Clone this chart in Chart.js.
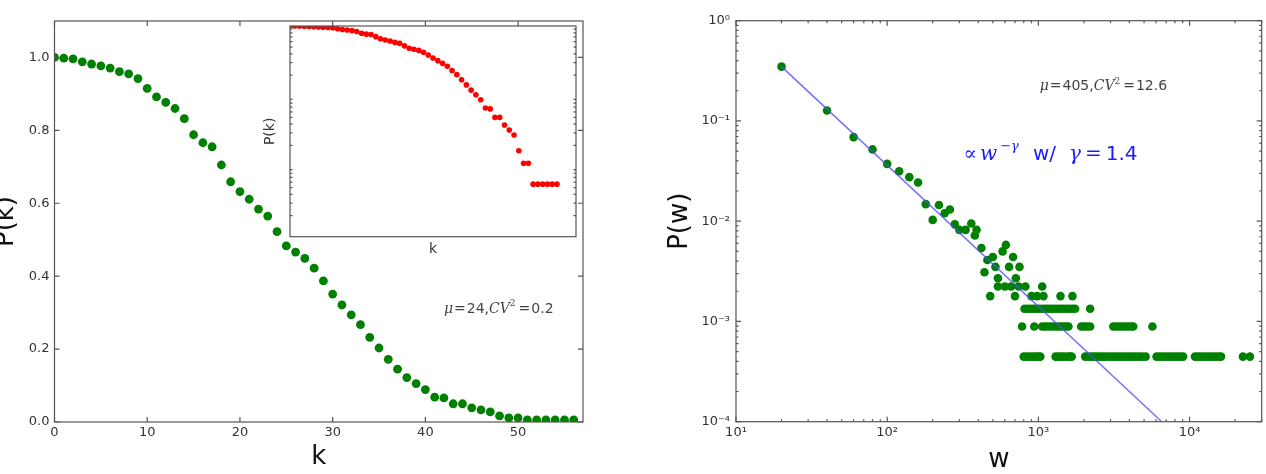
<!DOCTYPE html>
<html lang="en">
<head>
<meta charset="UTF-8">
<title>P(k) and P(w)</title>
<script src="https://cdn.jsdelivr.net/npm/chart.js"></script>
<style>
  body { margin: 0; background: #fff; }
  #wrap { position: relative; width: 1266px; height: 474px; }
  canvas { position: absolute; }
</style>
</head>
<body>
<div id="wrap">
  <canvas id="degree" width="600" height="474" style="left:0;top:0"></canvas>
  <canvas id="inset" width="336" height="244" style="left:250px;top:16px"></canvas>
  <canvas id="weight" width="646" height="474" style="left:620px;top:0"></canvas>
</div>
<script>
// degree distribution (left + inset)
const kValues = [0, 1, 2, 3, 4, 5, 6, 7, 8, 9, 10, 11, 12, 13, 14, 15, 16, 17, 18, 19,
  20, 21, 22, 23, 24, 25, 26, 27, 28, 29, 30, 31, 32, 33, 34, 35, 36, 37, 38, 39,
  40, 41, 42, 43, 44, 45, 46, 47, 48, 49, 50, 51, 52, 53, 54, 55, 56];
const pK = [1.0, 0.998, 0.996, 0.988, 0.982, 0.977, 0.971, 0.961, 0.955, 0.942,
  0.915, 0.892, 0.877, 0.860, 0.832, 0.788, 0.766, 0.755, 0.705, 0.659,
  0.632, 0.611, 0.584, 0.565, 0.522, 0.483, 0.466, 0.449, 0.422, 0.387,
  0.351, 0.321, 0.294, 0.267, 0.232, 0.203, 0.172, 0.145, 0.122, 0.105,
  0.089, 0.068, 0.066, 0.050, 0.050, 0.039, 0.033, 0.028, 0.0167, 0.0111,
  0.0111, 0.0056, 0.0056, 0.0056, 0.0056, 0.0056, 0.0056];

// weight distribution (right)
const wScatter = [20, 40, 60, 80, 100, 120, 140, 160, 180, 200, 220, 240, 260, 280, 300, 330,
  360, 380, 390, 420, 440, 460, 500, 520, 540, 580, 610, 640, 680, 710, 750];
const pScatter = [0.348, 0.127, 0.069, 0.052, 0.0373, 0.0315, 0.0275, 0.0243, 0.0148, 0.0103,
  0.0145, 0.0120, 0.0131, 0.0093, 0.0082, 0.0082, 0.0095, 0.0072, 0.0082, 0.0054,
  0.0031, 0.0041, 0.0044, 0.0035, 0.0027, 0.0050, 0.0058, 0.0035, 0.0044, 0.0027, 0.0035];
// horizontal rows at the bottom (1, 2, 3, 4, 5 counts)
const rowLevels = [0.000446, 0.000892, 0.00134, 0.00179, 0.00223];
const rowW = [
  [800, 840, 880, 920, 960, 1000, 1030, 1300, 1360, 1420, 1480, 1560, 1620, 1660,
   2040, 2140, 2240, 2340, 2450, 2560, 2680, 2800, 2940, 3080, 3220, 3370, 3520, 3690,
   3860, 4040, 4230, 4420, 4630, 4850, 5120, 6050, 6330, 6630, 6940, 7260, 7600, 7950,
   8320, 8710, 9060, 10860, 11370, 11900, 12450, 13030, 13640, 14280, 14940, 15640,
   16140, 22540, 25070],
  [780, 940, 1060, 1110, 1160, 1220, 1280, 1340, 1400, 1460, 1520, 1580, 1920, 2010,
   2100, 2200, 3130, 3270, 3420, 3580, 3750, 3920, 4100, 4240, 5680],
  [810, 850, 890, 930, 970, 1010, 1060, 1110, 1160, 1220, 1270, 1330, 1400, 1460, 1530,
   1600, 1680, 1750, 2200],
  [480, 700, 900, 980, 1080, 1400, 1680],
  [540, 600, 660, 740, 820, 1060]
];
const fitW = [20, 6550];
const fitP = [0.348, 0.0001];

const SANS = "'DejaVu Sans', sans-serif";
const SERIF = "'DejaVu Serif', serif";
Chart.defaults.font.family = SANS;

const SUP = {'-': '\u207B', '0': '\u2070', '1': '\u00B9', '2': '\u00B2', '3': '\u00B3',
  '4': '\u2074', '5': '\u2075', '6': '\u2076', '7': '\u2077', '8': '\u2078', '9': '\u2079'};
function pow10Label(v) {
  const e = Math.log10(v);
  if (Math.abs(e - Math.round(e)) > 1e-6) return '';
  return '10' + String(Math.round(e)).split('').map(c => SUP[c]).join('');
}

// matplotlib style box with inward ticks on all four sides
function frame(want) {
  return {
    id: 'frame',
    beforeDatasetsDraw(chart) {
      if (!want.fill) return;
      const a = chart.chartArea;
      chart.ctx.save();
      chart.ctx.fillStyle = '#fff';
      chart.ctx.fillRect(a.left, a.top, a.right - a.left, a.bottom - a.top);
      chart.ctx.restore();
    },
    afterDatasetsDraw(chart) {
      const {ctx, chartArea: a} = chart;
      const marks = (scale, w) => {
        const out = [];
        if (scale.type === 'logarithmic') {
          const lo = Math.floor(Math.log10(scale.min)), hi = Math.ceil(Math.log10(scale.max));
          for (let e = lo; e <= hi; e++) {
            for (let m = 1; m < 10; m++) {
              const v = m * Math.pow(10, e);
              if (v < scale.min * 0.999 || v > scale.max * 1.001) continue;
              if (m === 1 && w.major) out.push([v, 5]);
              if (m > 1 && w.minor) out.push([v, 2.5]);
            }
          }
        } else if (w.major) {
          scale.ticks.forEach(t => out.push([t.value, 5]));
        }
        return out;
      };
      ctx.save();
      ctx.strokeStyle = '#555';
      ctx.lineWidth = 1.2;
      ctx.beginPath();
      marks(chart.scales.x, want.x).forEach(([v, len]) => {
        const px = chart.scales.x.getPixelForValue(v);
        ctx.moveTo(px, a.bottom); ctx.lineTo(px, a.bottom - len);
        ctx.moveTo(px, a.top); ctx.lineTo(px, a.top + len);
      });
      marks(chart.scales.y, want.y).forEach(([v, len]) => {
        const py = chart.scales.y.getPixelForValue(v);
        ctx.moveTo(a.left, py); ctx.lineTo(a.left + len, py);
        ctx.moveTo(a.right, py); ctx.lineTo(a.right - len, py);
      });
      ctx.stroke();
      ctx.strokeRect(a.left, a.top, a.right - a.left, a.bottom - a.top);
      ctx.restore();
    }
  };
}

// text notes placed in data coordinates, drawn piece by piece
function notes(list) {
  return {
    id: 'notes',
    afterDatasetsDraw(chart) {
      const ctx = chart.ctx;
      ctx.save();
      ctx.textBaseline = 'middle';
      ctx.textAlign = 'left';
      list.forEach(n => {
        let x = chart.scales.x.getPixelForValue(n.x);
        const y = chart.scales.y.getPixelForValue(n.y);
        n.parts.forEach(p => {
          ctx.font = p.font;
          ctx.fillStyle = p.color || n.color;
          x += p.before || 0;
          ctx.fillText(p.t, x, y - (p.rise || 0));
          x += ctx.measureText(p.t).width;
        });
      });
      ctx.restore();
    }
  };
}

function statParts(mu, cv) {
  return [
    {t: '\u03BC', font: `italic 14px ${SERIF}`},
    {t: '=', font: `14px ${SERIF}`, before: 1},
    {t: mu + ',', font: `14px ${SANS}`, before: 1},
    {t: 'CV', font: `italic 14px ${SERIF}`},
    {t: '2', font: `9px ${SERIF}`, rise: 5},
    {t: '=', font: `14px ${SERIF}`, before: 3},
    {t: cv, font: `14px ${SANS}`, before: 1}
  ];
}

const noFx = {responsive: false, animation: false, events: []};
const tickFont = {size: 13};

new Chart(document.getElementById('degree'), {
  type: 'scatter',
  data: {
    datasets: [{
      data: kValues.map((k, i) => ({x: k, y: pK[i]})),
      backgroundColor: '#008000', borderColor: '#008000',
      pointRadius: 4.4, borderWidth: 0, clip: 0
    }]
  },
  options: {
    ...noFx,
    layout: {padding: {top: 21, right: 17, left: 0, bottom: 0}},
    plugins: {legend: {display: false}, tooltip: {enabled: false}},
    scales: {
      x: {
        type: 'linear', min: 0, max: 57,
        grid: {display: false, drawTicks: false}, border: {display: false},
        ticks: {stepSize: 10, includeBounds: false, padding: 3, color: '#333', font: tickFont},
        title: {display: true, text: 'k', color: '#111', font: {size: 26, lineHeight: 1}, padding: {top: 0, bottom: 4}},
        afterFit: s => { s.height = 52; }
      },
      y: {
        type: 'linear', min: 0, max: 1.1,
        grid: {display: false, drawTicks: false}, border: {display: false},
        ticks: {stepSize: 0.2, includeBounds: false, padding: 5, color: '#333', font: tickFont,
          callback: v => v.toFixed(1)},
        title: {display: true, text: 'P(k)', color: '#111', font: {size: 26, lineHeight: 0.4}, padding: {top: 0.7, bottom: 0}},
        afterFit: s => { s.width = 54.5; }
      }
    }
  },
  plugins: [frame({x: {major: true}, y: {major: true}}),
    notes([{x: 42, y: 0.31, color: '#444', parts: statParts('24', '0.2')}])]
});

new Chart(document.getElementById('inset'), {
  type: 'scatter',
  data: {
    datasets: [{
      data: kValues.map((k, i) => ({x: k, y: pK[i]})),
      backgroundColor: '#ff0000', borderColor: '#ff0000',
      pointRadius: 2.8, borderWidth: 0, clip: 0
    }]
  },
  options: {
    ...noFx,
    layout: {padding: {top: 10, right: 10, left: 0, bottom: 0}},
    plugins: {legend: {display: false}, tooltip: {enabled: false}},
    scales: {
      x: {
        type: 'linear', min: 0, max: 60,
        grid: {display: false, drawTicks: false}, border: {display: false},
        ticks: {display: false},
        title: {display: true, text: 'k', color: '#333', font: {size: 14, lineHeight: 1}, padding: {top: 0, bottom: 3.8}},
        afterFit: s => { s.height = 23.3; }
      },
      y: {
        type: 'logarithmic', min: 0.001, max: 1,
        grid: {display: false, drawTicks: false}, border: {display: false},
        ticks: {display: false},
        title: {display: true, text: 'P(k)', color: '#333', font: {size: 14, lineHeight: 1}, padding: {top: 13.6, bottom: 0}},
        afterFit: s => { s.width = 40; }
      }
    }
  },
  plugins: [frame({fill: true, x: {}, y: {minor: true}})]
});

const rowPoints = [];
rowW.forEach((ws, r) => ws.forEach(w => rowPoints.push({x: w, y: rowLevels[r]})));

new Chart(document.getElementById('weight'), {
  type: 'scatter',
  data: {
    datasets: [{
      type: 'line',
      data: fitW.map((w, i) => ({x: w, y: fitP[i]})),
      borderColor: 'rgba(80,80,240,0.8)', borderWidth: 1.5,
      pointRadius: 0, showLine: true, fill: false, clip: 0
    }, {
      data: wScatter.map((w, i) => ({x: w, y: pScatter[i]})).concat(rowPoints),
      backgroundColor: '#008000', borderColor: '#008000',
      pointRadius: 4.3, borderWidth: 0, clip: 0
    }]
  },
  options: {
    ...noFx,
    layout: {padding: {top: 20.7, right: 3.3, left: 0, bottom: 0}},
    plugins: {legend: {display: false}, tooltip: {enabled: false}},
    scales: {
      x: {
        type: 'logarithmic', min: 10, max: 30000,
        grid: {display: false, drawTicks: false}, border: {display: false},
        ticks: {autoSkip: false, maxRotation: 0, padding: 3, color: '#333', font: tickFont, callback: pow10Label},
        title: {display: true, text: 'w', color: '#111', font: {size: 26, lineHeight: 1}, padding: {top: 0, bottom: 1}},
        afterFit: s => { s.height = 52.3; }
      },
      y: {
        type: 'logarithmic', min: 0.0001, max: 1,
        grid: {display: false, drawTicks: false}, border: {display: false},
        ticks: {autoSkip: false, padding: 6, color: '#333', font: tickFont, callback: pow10Label},
        title: {display: true, text: 'P(w)', color: '#111', font: {size: 26, lineHeight: 1}, padding: {top: 47, bottom: 0}},
        afterFit: s => { s.width = 116; }
      }
    }
  },
  plugins: [frame({x: {major: true, minor: true}, y: {major: true, minor: true}}),
    notes([
      {x: 1020, y: 0.22, color: '#444', parts: statParts('405', '12.6')},
      {x: 320, y: 0.046, color: '#1a1aff', parts: [
        {t: '\u221D', font: `20px ${SERIF}`},
        {t: 'w', font: `italic 20px ${SERIF}`, before: 3},
        {t: '\u2212\u03B3', font: `italic 13px ${SERIF}`, rise: 8, before: 3},
        {t: 'w/', font: `20px ${SANS}`, before: 14},
        {t: '\u03B3', font: `italic 20px ${SERIF}`, before: 13},
        {t: '=', font: `20px ${SERIF}`, before: 4},
        {t: '1.4', font: `20px ${SANS}`, before: 4}
      ]}
    ])]
});
</script>
</body>
</html>
